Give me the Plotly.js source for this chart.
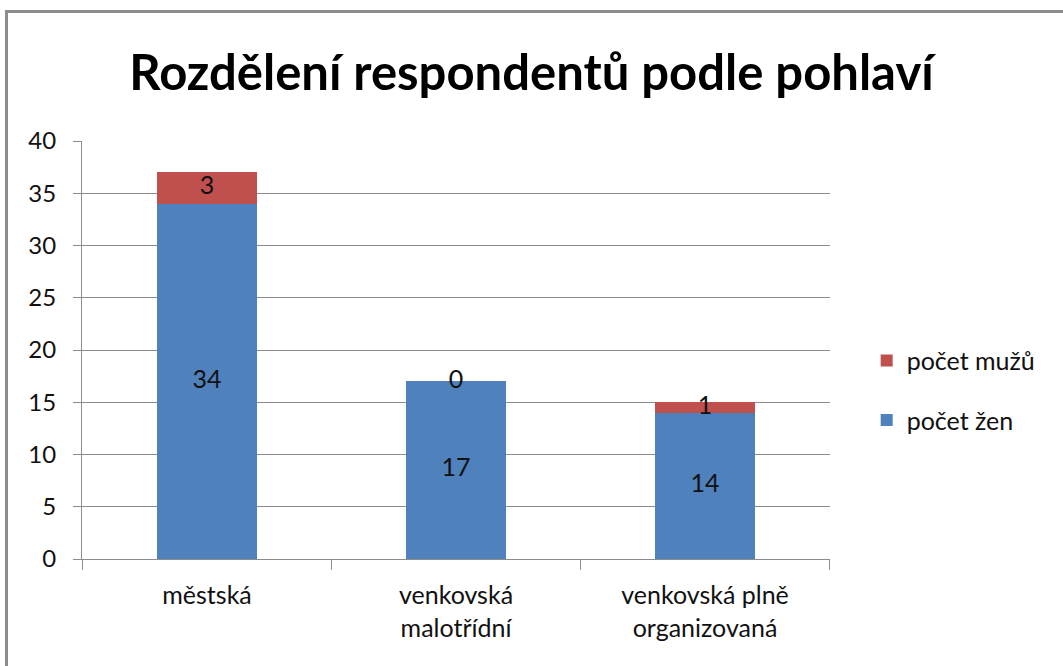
<!DOCTYPE html>
<html>
<head>
<meta charset="utf-8">
<script src="https://cdn.plot.ly/plotly-3.0.1.min.js"></script>
<style>
  html, body { margin:0; padding:0; background:#fff; }
  #frame { position:absolute; left:5px; top:10px; width:1100px; height:700px;
           border-left:3px solid #8c8c8c; border-top:3px solid #8c8c8c; }
  #chart { position:absolute; left:0; top:0; width:1063px; height:666px; }
</style>
</head>
<body>
<div id="frame"></div>
<div id="chart"></div>
<script>
const categories = ["městská", "venkovská<br>malotřídní", "venkovská plně<br>organizovaná"];
const pocetZen = [34, 17, 14];
const pocetMuzu = [3, 0, 1];
const yTicks = [0, 5, 10, 15, 20, 25, 30, 35, 40];

const FONT = "Lato, 'Open Sans', sans-serif";

const zenLabelY = pocetZen.map(v => v / 2);
const muzLabelY = pocetZen.map((v, i) => v + pocetMuzu[i] / 2);

const traces = [
  { type: "bar", name: "počet žen", x: categories, y: pocetZen,
    marker: { color: "#4F81BD" }, legendgroup: "z", legendrank: 2, hoverinfo: "skip" },
  { type: "bar", name: "počet mužů", x: categories, y: pocetMuzu,
    marker: { color: "#C0504D" }, legendgroup: "m", legendrank: 1, hoverinfo: "skip" },
  { type: "scatter", mode: "text", x: categories, y: zenLabelY,
    text: pocetZen.map(String), textposition: "middle center",
    textfont: { family: FONT, size: 25, color: "#111" }, showlegend: false, hoverinfo: "skip" },
  { type: "scatter", mode: "text", x: categories, y: muzLabelY,
    text: pocetMuzu.map(String), textposition: "middle center",
    textfont: { family: FONT, size: 25, color: "#111" }, showlegend: false, hoverinfo: "skip" }
];

const layout = {
  width: 1063, height: 666,
  paper_bgcolor: "rgba(0,0,0,0)", plot_bgcolor: "rgba(0,0,0,0)",
  margin: { l: 82, r: 233, t: 141, b: 107 },
  barmode: "stack", bargap: 0.6,
  font: { family: FONT, size: 24, color: "#111" },
  title: { text: "<b>Rozdělení respondentů podle pohlaví</b>",
           font: { family: FONT, size: 49, color: "#000" },
           x: 0.5, xref: "container", xanchor: "center",
           y: 1 - 73 / 666, yref: "container", yanchor: "middle" },
  xaxis: { type: "category", showgrid: false, showline: true, linecolor: "#8c8c8c", linewidth: 1,
           ticks: "", ticklabelstandoff: 14,
           tickfont: { family: FONT, size: 25, color: "#111" }, fixedrange: true },
  yaxis: { range: [0, 40], tickvals: yTicks, ticktext: yTicks.map(String),
           showgrid: true, gridcolor: "#8c8c8c", gridwidth: 1,
           showline: true, linecolor: "#8c8c8c", linewidth: 1,
           ticks: "outside", ticklen: 8, tickcolor: "#8c8c8c", ticklabelstandoff: 12,
           tickfont: { family: FONT, size: 24, color: "#111" }, zeroline: false, fixedrange: true },
  legend: { x: 0.979, xref: "container", xanchor: "right", y: 0.404, yanchor: "middle",
            traceorder: "grouped", tracegroupgap: 24, borderwidth: 0,
            font: { family: FONT, size: 25, color: "#111" }, itemwidth: 30 },
  shapes: [0, 1, 2, 3].map(k => ({ type: "line", xref: "x", yref: "paper",
            x0: k - 0.5, x1: k - 0.5, y0: 0, y1: -0.026,
            line: { color: "#8c8c8c", width: 1 } }))
};

Plotly.newPlot("chart", traces, layout, { displayModeBar: false, staticPlot: true });
</script>
</body>
</html>
